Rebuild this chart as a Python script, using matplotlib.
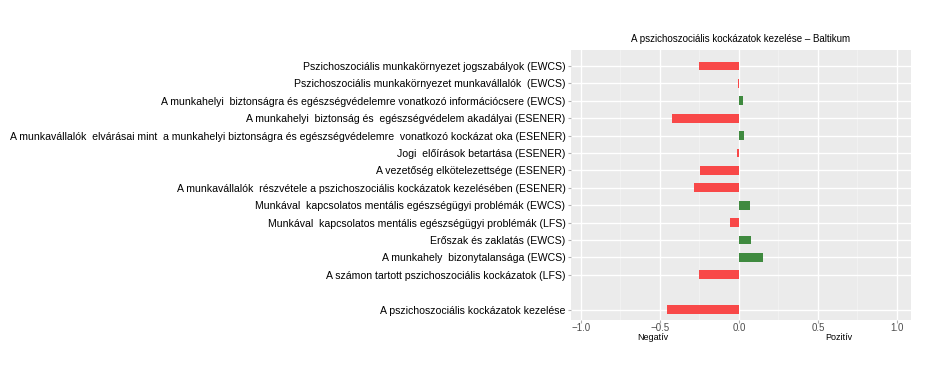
import matplotlib.pyplot as plt
from matplotlib.ticker import MultipleLocator

plt.rcParams['font.family'] = ['Liberation Sans', 'DejaVu Sans']

labels = [
    'Pszichoszociális munkakörnyezet jogszabályok (EWCS)',
    'Pszichoszociális munkakörnyezet munkavállalók  (EWCS)',
    'A munkahelyi  biztonságra és egészségvédelemre vonatkozó információcsere (EWCS)',
    'A munkahelyi  biztonság és  egészségvédelem akadályai (ESENER)',
    'A munkavállalók  elvárásai mint  a munkahelyi biztonságra és egészségvédelemre  vonatkozó kockázat oka (ESENER)',
    'Jogi  előírások betartása (ESENER)',
    'A vezetőség elkötelezettsége (ESENER)',
    'A munkavállalók  részvétele a pszichoszociális kockázatok kezelésében (ESENER)',
    'Munkával  kapcsolatos mentális egészségügyi problémák (EWCS)',
    'Munkával  kapcsolatos mentális egészségügyi problémák (LFS)',
    'Erőszak és zaklatás (EWCS)',
    'A munkahely  bizonytalansága (EWCS)',
    'A számon tartott pszichoszociális kockázatok (LFS)',
    'A pszichoszociális kockázatok kezelése',
]
values = [-0.251, -0.003, 0.023, -0.426, 0.034, -0.011, -0.247, -0.285,
          0.070, -0.057, 0.076, 0.152, -0.251, -0.454]
rows = [0, 1, 2, 3, 4, 5, 6, 7, 8, 9, 10, 11, 12, 14]

red = '#F84848'
green = '#3F8A3F'
colors = [green if v > 0 else red for v in values]

fig = plt.figure(figsize=(9.27, 3.7), dpi=100)
ax = fig.add_axes([571 / 927, 50 / 370, 340 / 927, 270 / 370])
ax.set_facecolor('#EBEBEB')

ax.barh(rows, values, height=0.5, color=colors, zorder=3)

ax.set_xlim(-1.063, 1.089)
ax.set_ylim(14.6, -0.92)
ax.xaxis.set_major_locator(MultipleLocator(0.5))
ax.xaxis.set_minor_locator(MultipleLocator(0.25))
ax.set_yticks(rows)
ax.set_yticklabels(labels, fontsize=7.6, color='black')
ax.grid(which='major', color='white', linewidth=1.0, zorder=0)
ax.grid(which='minor', axis='x', color='#F5F5F5', linewidth=0.5, zorder=0)
ax.set_axisbelow(True)
for s in ax.spines.values():
    s.set_visible(False)
ax.tick_params(axis='y', length=2, color='#B0B0B0', pad=2)
ax.tick_params(axis='x', which='major', length=2, color='#B0B0B0', labelsize=7,
               labelcolor='#4D4D4D', pad=0.5)
ax.tick_params(axis='x', which='minor', length=0)

ax.set_title('A pszichoszociális kockázatok kezelése – Baltikum', fontsize=7, pad=6)
fig.text(653 / 927, 1 - 338 / 370, 'Negatív', fontsize=6.5, ha='center', va='center')
fig.text(839 / 927, 1 - 338 / 370, 'Pozitív', fontsize=6.5, ha='center', va='center')

fig.savefig('out.png', dpi=100)
